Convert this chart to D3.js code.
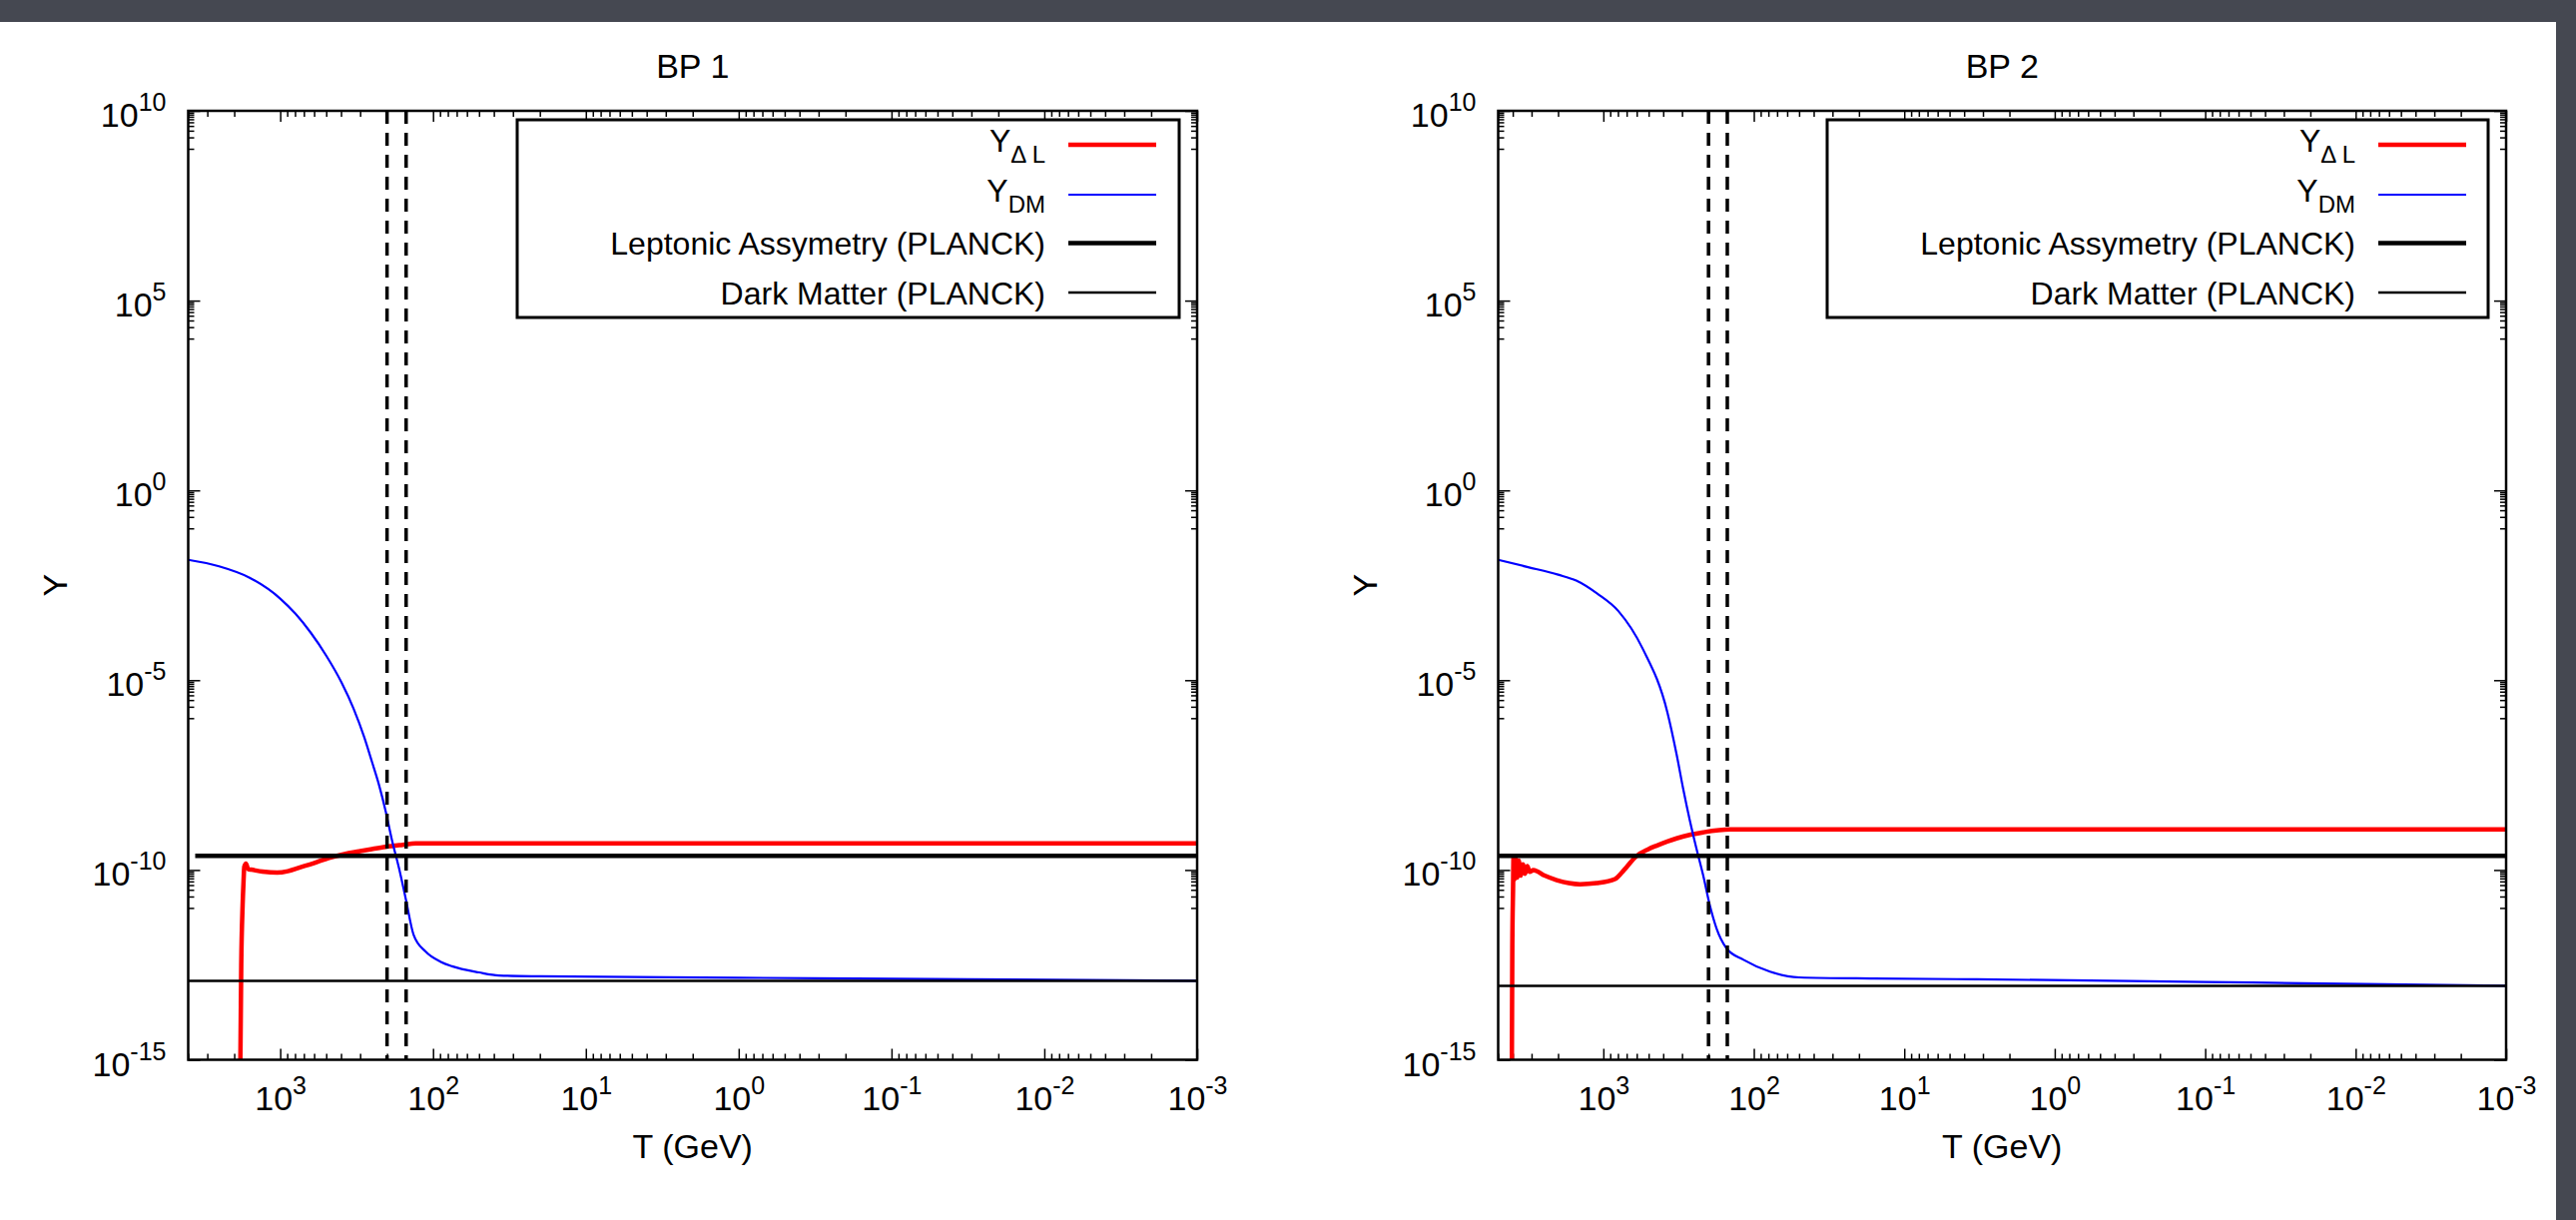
<!DOCTYPE html>
<html><head><meta charset="utf-8">
<script src="https://cdn.jsdelivr.net/npm/d3@7"></script>
<style>
html,body{margin:0;padding:0;background:#454851;}
svg{display:block;}
text{font-family:"Liberation Sans",Arial,Helvetica,sans-serif;fill:#000;}
</style></head>
<body>
<svg id="chart" width="2580" height="1222"></svg>
<script>
// ---------------- data ----------------
const panelTitles = ["BP 1", "BP 2"];
const xTickExp = [3, 2, 1, 0, -1, -2, -3];
const yTickExp = [10, 5, 0, -5, -10, -15];
const yDomain = [1e-15, 1e10];
const bp1TDomain = [4000, 0.001];
const bp2TDomain = [5000, 0.001];
const leptPlanck = 2.37e-10;
const dmPlanckBP1 = 1.2e-13;
const dmPlanckBP2 = 8.9e-14;
const leptStartBP1 = 3600;
const leptStartBP2 = 5000;
const dashedT = [200, 150];
const legendLabels = ["Y_ΔL", "Y_DM", "Leptonic Assymetry (PLANCK)", "Dark Matter (PLANCK)"];

// BP1 Y_DeltaL
const bp1LT = [1832, 1799, 1762, 1738, 1718, 1675, 1622, 1549, 1309, 1047, 891, 752, 603, 479, 380, 305, 251, 204, 158, 130, 0.001];
const bp1LY = [1e-16, 3.2e-13, 1.2e-11, 5.0e-11, 1.23e-10, 1.48e-10, 1.05e-10, 1.02e-10, 9.1e-11, 8.5e-11, 9.3e-11, 1.15e-10, 1.51e-10, 2.09e-10, 2.63e-10, 3.09e-10, 3.55e-10, 4.07e-10, 4.6e-10, 5.0e-10, 5.0e-10];
// BP1 Y_DM
const bp1DmT = [4000, 2512, 1585, 1000, 794, 631, 501, 398, 331, 282, 251, 226, 204, 186, 167, 151, 134, 112, 89, 75, 50, 37, 20, 1, 0.0316, 0.001];
const bp1DmY = [1.48e-2, 1.0e-2, 5.0e-3, 1.41e-3, 5.6e-4, 1.78e-4, 4.5e-5, 8.9e-6, 1.78e-6, 3.16e-7, 7.1e-8, 1.78e-8, 3.5e-9, 6.3e-10, 1.12e-10, 1.78e-11, 1.95e-12, 7.1e-13, 3.8e-13, 2.9e-13, 2.0e-13, 1.66e-13, 1.58e-13, 1.45e-13, 1.32e-13, 1.2e-13];
// BP2 Y_DeltaL
const bp2LT = [4064, 4027, 3981, 3954, 3890, 3819, 3733, 3648, 3548, 3428, 3311, 3199, 3090, 2917, 2455, 2042, 1698, 1429, 1107, 837, 759, 700, 601, 501, 443, 326, 263, 217, 144, 0.001];
const bp2LY = [1e-16, 1e-12, 3.2e-11, 2.24e-10, 5.6e-11, 2.0e-10, 6.3e-11, 1.78e-10, 7.1e-11, 1.41e-10, 7.9e-11, 1.26e-10, 8.9e-11, 1.0e-10, 7.1e-11, 5.4e-11, 4.5e-11, 4.2e-11, 4.5e-11, 5.75e-11, 8.3e-11, 1.2e-10, 2.34e-10, 3.55e-10, 4.37e-10, 6.8e-10, 8.5e-10, 9.8e-10, 1.17e-9, 1.17e-9];
// BP2 Y_DM
const bp2DmT = [5000, 3162, 1995, 1514, 1096, 794, 546, 375, 326, 295, 266, 240, 217, 196, 177, 152, 117, 78, 50, 15.8, 3.3, 0.1, 0.001];
const bp2DmY = [1.48e-2, 9.5e-3, 6.0e-3, 4.2e-3, 1.9e-3, 6.6e-4, 6.6e-5, 1.41e-6, 1.12e-7, 1.41e-8, 2.0e-9, 3.55e-10, 7.2e-11, 1.17e-11, 2.9e-12, 8.7e-13, 4.3e-13, 2.1e-13, 1.48e-13, 1.38e-13, 1.32e-13, 1.12e-13, 8.9e-14];

// ---------------- layout ----------------
const svg = d3.select("#chart");
svg.append("rect").attr("x", 0).attr("y", 22).attr("width", 2560).attr("height", 1200).attr("fill", "#ffffff");

const panels = [
  {title: panelTitles[0], left: 188.5, right: 1199, tDom: bp1TDomain, LT: bp1LT, LY: bp1LY, DT: bp1DmT, DY: bp1DmY, dm: dmPlanckBP1, leptStart: leptStartBP1},
  {title: panelTitles[1], left: 1500.5, right: 2510, tDom: bp2TDomain, LT: bp2LT, LY: bp2LY, DT: bp2DmT, DY: bp2DmY, dm: dmPlanckBP2, leptStart: leptStartBP2}
];
const plotTop = 111, plotBottom = 1061.5;

function supText(sel, exp) {
  sel.text(null);
  sel.append("tspan").text("10");
  sel.append("tspan").attr("dy", -16).attr("font-size", 25).text(String(exp));
}

panels.forEach((p, pi) => {
  const g = svg.append("g");
  const x = d3.scaleLog().domain(p.tDom).range([p.left, p.right]);
  const y = d3.scaleLog().domain(yDomain).range([plotBottom, plotTop]);

  const clipId = "clip" + pi;
  g.append("clipPath").attr("id", clipId).append("rect")
    .attr("x", p.left).attr("y", plotTop).attr("width", p.right - p.left).attr("height", plotBottom - plotTop);

  const xMajors = xTickExp.map(e => Math.pow(10, e));
  const xMinors = [];
  for (let e = -3; e <= 3; e++) for (let k = 2; k <= 9; k++) {
    const v = k * Math.pow(10, e);
    if (v <= p.tDom[0] && v >= p.tDom[1]) xMinors.push(v);
  }
  const yMajors = yTickExp.map(e => Math.pow(10, e));
  const yMinors = [];
  yTickExp.forEach(e => { for (let k = 1; k <= 9; k++) { const v = k * Math.pow(10, e - 1); if (v >= yDomain[0] && v <= yDomain[1]) yMinors.push(v); } });

  const axes = g.append("g").attr("class", "axes");
  const styleAxis = a => { a.select(".domain").remove(); a.selectAll("line").attr("stroke", "#000").attr("stroke-width", 1.5); };
  // bottom
  axes.append("g").attr("transform", `translate(0,${plotBottom})`)
    .call(d3.axisBottom(x).tickValues(xMinors).tickSizeInner(-6).tickSizeOuter(0).tickFormat("")).call(styleAxis);
  const xb = axes.append("g").attr("transform", `translate(0,${plotBottom})`)
    .call(d3.axisBottom(x).tickValues(xMajors).tickSizeInner(-11).tickSizeOuter(0).tickPadding(0)).call(styleAxis);
  xb.selectAll("text").attr("y", 50).attr("dy", null).attr("font-size", 34).attr("fill", "#000")
    .attr("text-anchor", "middle").each(function(d) { supText(d3.select(this), Math.round(Math.log10(d))); });
  // top
  axes.append("g").attr("transform", `translate(0,${plotTop})`)
    .call(d3.axisTop(x).tickValues(xMinors).tickSizeInner(-6).tickSizeOuter(0).tickFormat("")).call(styleAxis);
  axes.append("g").attr("transform", `translate(0,${plotTop})`)
    .call(d3.axisTop(x).tickValues(xMajors).tickSizeInner(-11).tickSizeOuter(0).tickFormat("")).call(styleAxis);
  // left
  axes.append("g").attr("transform", `translate(${p.left},0)`)
    .call(d3.axisLeft(y).tickValues(yMinors).tickSizeInner(-6).tickSizeOuter(0).tickFormat("")).call(styleAxis);
  const yl = axes.append("g").attr("transform", `translate(${p.left},0)`)
    .call(d3.axisLeft(y).tickValues(yMajors).tickSizeInner(-12).tickSizeOuter(0).tickPadding(0)).call(styleAxis);
  yl.selectAll("text").attr("x", -22).attr("dy", null).attr("y", 15.5).attr("font-size", 34).attr("fill", "#000")
    .attr("text-anchor", "end").each(function(d) { supText(d3.select(this), Math.round(Math.log10(d))); });
  // right
  axes.append("g").attr("transform", `translate(${p.right},0)`)
    .call(d3.axisRight(y).tickValues(yMinors).tickSizeInner(-6).tickSizeOuter(0).tickFormat("")).call(styleAxis);
  axes.append("g").attr("transform", `translate(${p.right},0)`)
    .call(d3.axisRight(y).tickValues(yMajors).tickSizeInner(-12).tickSizeOuter(0).tickFormat("")).call(styleAxis);

  // curves
  const plot = g.append("g").attr("clip-path", `url(#${clipId})`);
  const line = d3.line().x(d => x(d[0])).y(d => y(d[1])).curve(d3.curveMonotoneX);
  plot.append("path").datum(p.LT.map((t, i) => [t, p.LY[i]]))
    .attr("d", line).attr("fill", "none").attr("stroke", "#ff0000").attr("stroke-width", 4.5).attr("stroke-linejoin", "round");
  plot.append("path").datum(p.DT.map((t, i) => [t, p.DY[i]]))
    .attr("d", line).attr("fill", "none").attr("stroke", "#0000ff").attr("stroke-width", 2.2);
  plot.append("line").attr("x1", x(p.leptStart)).attr("x2", x(p.tDom[1]))
    .attr("y1", y(leptPlanck)).attr("y2", y(leptPlanck)).attr("stroke", "#000").attr("stroke-width", 4.5);
  plot.append("line").attr("x1", x(p.tDom[0])).attr("x2", x(p.tDom[1]))
    .attr("y1", y(p.dm)).attr("y2", y(p.dm)).attr("stroke", "#000").attr("stroke-width", 2.5);
  dashedT.forEach(t => {
    plot.append("line").attr("x1", x(t)).attr("x2", x(t)).attr("y1", plotTop).attr("y2", plotBottom)
      .attr("stroke", "#000").attr("stroke-width", 3.5).attr("stroke-dasharray", "13,9");
  });

  // frame
  g.append("rect").attr("x", p.left).attr("y", plotTop).attr("width", p.right - p.left).attr("height", plotBottom - plotTop)
    .attr("fill", "none").attr("stroke", "#000").attr("stroke-width", 2.5);

  // title and axis labels
  const cx = (p.left + p.right) / 2;
  g.append("text").attr("x", cx).attr("y", 78).attr("text-anchor", "middle").attr("font-size", 34).text(p.title);
  g.append("text").attr("x", cx).attr("y", 1160).attr("text-anchor", "middle").attr("font-size", 34).text("T (GeV)");
  g.append("text").attr("transform", `translate(${p.left - 122},${(plotTop + plotBottom) / 2}) rotate(-90)`)
    .attr("text-anchor", "middle").attr("font-size", 34).text("Y");

  // legend
  const lx0 = p.left + 329.5, lx1 = p.right - 18, ly0 = 120, ly1 = 318;
  const lg = g.append("g");
  lg.append("rect").attr("x", lx0).attr("y", ly0).attr("width", lx1 - lx0).attr("height", ly1 - ly0)
    .attr("fill", "#fff").attr("stroke", "#000").attr("stroke-width", 3);
  const rowsY = [145, 195, 243.5, 293];
  const colors = ["#ff0000", "#0000ff", "#000", "#000"];
  const widths = [4.5, 2.2, 4.5, 2.5];
  const textRight = p.left + 858.5, sx0 = p.left + 881.5, sx1 = p.left + 969.5;
  legendLabels.forEach((lab, i) => {
    const ry = rowsY[i];
    const t = lg.append("text").attr("x", textRight).attr("text-anchor", "end").attr("font-size", 32);
    if (lab.startsWith("Y_")) {
      t.attr("y", ry + 7);
      t.append("tspan").text("Y");
      t.append("tspan").attr("dy", 11).attr("font-size", 24).text(lab.slice(2) === "ΔL" ? "Δ L" : lab.slice(2));
    } else {
      t.attr("y", ry + 11.5).text(lab);
    }
    lg.append("line").attr("x1", sx0).attr("x2", sx1).attr("y1", ry).attr("y2", ry)
      .attr("stroke", colors[i]).attr("stroke-width", widths[i]);
  });
});
</script>
</body></html>
